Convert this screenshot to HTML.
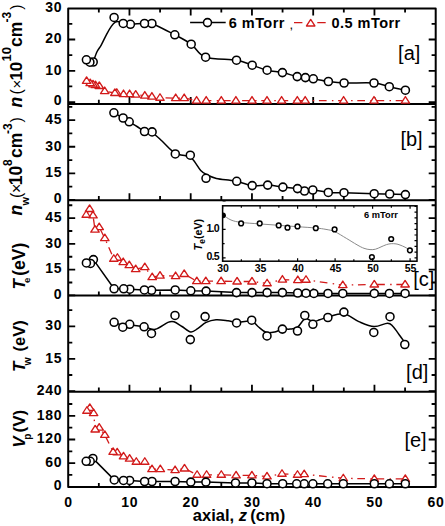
<!DOCTYPE html>
<html><head><meta charset="utf-8"><title>Axial profiles</title>
<style>
html,body{margin:0;padding:0;background:#fff;width:445px;height:526px;overflow:hidden}
svg text{font-family:"Liberation Sans",sans-serif;fill:#000}
</style></head><body>
<svg width="445" height="526" viewBox="0 0 445 526" style="display:block">
<rect width="445" height="526" fill="#fff"/>
<path d="M98.83 103.9V99.8 M129.45 103.9V96.9 M160.07 103.9V99.8 M190.7 103.9V96.9 M221.32 103.9V99.8 M251.95 103.9V96.9 M282.57 103.9V99.8 M313.2 103.9V96.9 M343.82 103.9V99.8 M374.45 103.9V96.9 M405.07 103.9V99.8 M98.83 200.2V196.1 M129.45 200.2V193.2 M160.07 200.2V196.1 M190.7 200.2V193.2 M221.32 200.2V196.1 M251.95 200.2V193.2 M282.57 200.2V196.1 M313.2 200.2V193.2 M343.82 200.2V196.1 M374.45 200.2V193.2 M405.07 200.2V196.1 M98.83 295.5V291.4 M129.45 295.5V288.5 M160.07 295.5V291.4 M190.7 295.5V288.5 M221.32 295.5V291.4 M251.95 295.5V288.5 M282.57 295.5V291.4 M313.2 295.5V288.5 M343.82 295.5V291.4 M374.45 295.5V288.5 M405.07 295.5V291.4 M98.83 391.7V387.6 M129.45 391.7V384.7 M160.07 391.7V387.6 M190.7 391.7V384.7 M221.32 391.7V387.6 M251.95 391.7V384.7 M282.57 391.7V387.6 M313.2 391.7V384.7 M343.82 391.7V387.6 M374.45 391.7V384.7 M405.07 391.7V387.6 M98.83 487V482.9 M129.45 487V480 M160.07 487V482.9 M190.7 487V480 M221.32 487V482.9 M251.95 487V480 M282.57 487V482.9 M313.2 487V480 M343.82 487V482.9 M374.45 487V480 M405.07 487V482.9 M98.83 8.5V12.6 M129.45 8.5V15.5 M160.07 8.5V12.6 M190.7 8.5V15.5 M221.32 8.5V12.6 M251.95 8.5V15.5 M282.57 8.5V12.6 M313.2 8.5V15.5 M343.82 8.5V12.6 M374.45 8.5V15.5 M405.07 8.5V12.6 M68.2 102.1H75.2 M435.7 102.1H428.7 M68.2 70.8H75.2 M435.7 70.8H428.7 M68.2 39.5H75.2 M435.7 39.5H428.7 M68.2 86.45H72.3 M435.7 86.45H431.6 M68.2 55.15H72.3 M435.7 55.15H431.6 M68.2 23.85H72.3 M435.7 23.85H431.6 M68.2 200H75.2 M435.7 200H428.7 M68.2 173.38H75.2 M435.7 173.38H428.7 M68.2 146.75H75.2 M435.7 146.75H428.7 M68.2 120.12H75.2 M435.7 120.12H428.7 M68.2 186.69H72.3 M435.7 186.69H431.6 M68.2 160.06H72.3 M435.7 160.06H431.6 M68.2 133.44H72.3 M435.7 133.44H431.6 M68.2 106.81H72.3 M435.7 106.81H431.6 M68.2 295.4H75.2 M435.7 295.4H428.7 M68.2 269.64H75.2 M435.7 269.64H428.7 M68.2 243.89H75.2 M435.7 243.89H428.7 M68.2 218.13H75.2 M435.7 218.13H428.7 M68.2 282.52H72.3 M435.7 282.52H431.6 M68.2 256.77H72.3 M435.7 256.77H431.6 M68.2 231.01H72.3 M435.7 231.01H431.6 M68.2 205.26H72.3 M435.7 205.26H431.6 M68.2 391.2H75.2 M435.7 391.2H428.7 M68.2 358.8H75.2 M435.7 358.8H428.7 M68.2 326.4H75.2 M435.7 326.4H428.7 M68.2 375H72.3 M435.7 375H431.6 M68.2 342.6H72.3 M435.7 342.6H431.6 M68.2 310.2H72.3 M435.7 310.2H431.6 M68.2 486.8H75.2 M435.7 486.8H428.7 M68.2 463.15H75.2 M435.7 463.15H428.7 M68.2 439.5H75.2 M435.7 439.5H428.7 M68.2 415.84H75.2 M435.7 415.84H428.7 M68.2 474.97H72.3 M435.7 474.97H431.6 M68.2 451.32H72.3 M435.7 451.32H431.6 M68.2 427.67H72.3 M435.7 427.67H431.6 M68.2 404.02H72.3 M435.7 404.02H431.6" stroke="#000" stroke-width="1.8" fill="none"/>
<path d="M68.2 8.5H435.7 V487 H68.2 Z M68.2 103.9H435.7 M68.2 200.2H435.7 M68.2 295.5H435.7 M68.2 391.7H435.7" stroke="#000" stroke-width="2" fill="none" stroke-linejoin="round"/>
<defs>
<clipPath id="cp0"><rect x="68.2" y="8.5" width="367.5" height="95.4"/></clipPath>
<clipPath id="cp1"><rect x="68.2" y="103.9" width="367.5" height="96.3"/></clipPath>
<clipPath id="cp2"><rect x="68.2" y="200.2" width="367.5" height="95.3"/></clipPath>
<clipPath id="cp3"><rect x="68.2" y="295.5" width="367.5" height="96.2"/></clipPath>
<clipPath id="cp4"><rect x="68.2" y="391.7" width="367.5" height="95.3"/></clipPath>
</defs>
<g>
<path d="M86.6 80.9 L90.2 83.2 L93 84.4 L95.5 85.2 L99.3 86 L104.7 91.1 L114.9 93 L116.8 92.8 L123.5 94.1 L129.6 94.1 L135.7 94.7 L144.8 95.6 L151.9 96.6 L160 97.8 L175.7 98.1 L184.2 98.1 L196.6 100.6 L206.2 100.6 L221.3 100.6 L235.9 100.6 L252 100.6 L267 100.6 L281.6 100.6 L297.3 100.6 L305.2 100.6 L343.6 100.6 L374 100.6 L405.4 100.6" fill="none" stroke="#d21a1a" stroke-width="1.3" stroke-dasharray="7.7 5.3 1.5 4.7" stroke-dashoffset="13.35"/>
<path d="M93.2 62 C93.83 60.3 95.67 54.62 97 51.8 C98.33 48.98 99.6 48.02 101.2 45.1 C102.8 42.18 104.92 37.42 106.6 34.3 C108.28 31.18 109.85 28.42 111.3 26.4 C112.75 24.38 114.07 22.98 115.3 22.2 C116.53 21.42 117.35 21.5 118.7 21.7 C120.05 21.9 121.45 22.98 123.4 23.4 C125.35 23.82 128.13 24.13 130.4 24.2 C132.67 24.27 134.65 23.92 137 23.8 C139.35 23.68 142.02 23.55 144.5 23.5 C146.98 23.45 146.85 21.62 151.9 23.5 C156.95 25.38 168.25 31.35 174.8 34.8 C181.35 38.25 186.07 40.47 191.2 44.2 C196.33 47.93 198.05 54.53 205.6 57.2 C213.15 59.87 228.73 58.87 236.5 60.2 C244.27 61.53 247.1 63.53 252.2 65.2 C257.3 66.87 262.07 68.97 267.1 70.2 C272.13 71.43 277.38 71.53 282.4 72.6 C287.42 73.67 293.37 75.77 297.2 76.6 C301.03 77.43 302.72 77.23 305.4 77.6 C308.08 77.97 309.47 78.15 313.3 78.8 C317.13 79.45 323.27 80.8 328.4 81.5 C333.53 82.2 336.5 82.75 344.1 83 C351.7 83.25 366.47 82.38 374 83 C381.53 83.62 384.07 85.5 389.3 86.7 C394.53 87.9 402.72 89.62 405.4 90.2" fill="none" stroke="#000" stroke-width="1.5" stroke-linejoin="round" stroke-linecap="round"/>
<path d="M86.4 59.8 L89.9 62.2 L93.2 62" fill="none" stroke="#000" stroke-width="1.5" stroke-linejoin="round" stroke-linecap="round"/>
<g fill="#fff" stroke="#d21a1a" stroke-width="1.35" stroke-linejoin="round"><path d="M405.4 96.55L409.6 103.05L401.2 103.05Z"/><path d="M374 96.55L378.2 103.05L369.8 103.05Z"/><path d="M343.6 96.55L347.8 103.05L339.4 103.05Z"/><path d="M305.2 96.55L309.4 103.05L301 103.05Z"/><path d="M297.3 96.55L301.5 103.05L293.1 103.05Z"/><path d="M281.6 96.55L285.8 103.05L277.4 103.05Z"/><path d="M267 96.55L271.2 103.05L262.8 103.05Z"/><path d="M252 96.55L256.2 103.05L247.8 103.05Z"/><path d="M235.9 96.55L240.1 103.05L231.7 103.05Z"/><path d="M221.3 96.55L225.5 103.05L217.1 103.05Z"/><path d="M206.2 96.55L210.4 103.05L202 103.05Z"/><path d="M196.6 96.55L200.8 103.05L192.4 103.05Z"/><path d="M184.2 94.05L188.4 100.55L180 100.55Z"/><path d="M175.7 94.05L179.9 100.55L171.5 100.55Z"/><path d="M160 93.75L164.2 100.25L155.8 100.25Z"/><path d="M151.9 92.55L156.1 99.05L147.7 99.05Z"/><path d="M144.8 91.55L149 98.05L140.6 98.05Z"/><path d="M135.7 90.65L139.9 97.15L131.5 97.15Z"/><path d="M129.6 90.05L133.8 96.55L125.4 96.55Z"/><path d="M123.5 90.05L127.7 96.55L119.3 96.55Z"/><path d="M116.8 88.75L121 95.25L112.6 95.25Z"/><path d="M114.9 88.95L119.1 95.45L110.7 95.45Z"/><path d="M104.7 87.05L108.9 93.55L100.5 93.55Z"/><path d="M99.3 81.95L103.5 88.45L95.1 88.45Z"/><path d="M95.5 81.15L99.7 87.65L91.3 87.65Z"/><path d="M93 80.35L97.2 86.85L88.8 86.85Z"/><path d="M90.2 79.15L94.4 85.65L86 85.65Z"/><path d="M86.6 76.85L90.8 83.35L82.4 83.35Z"/></g>
<g fill="#fff" stroke="#000" stroke-width="1.55"><circle cx="405.4" cy="90.2" r="4"/><circle cx="389.3" cy="86.7" r="4"/><circle cx="374" cy="83" r="4"/><circle cx="344.1" cy="83" r="4"/><circle cx="328.4" cy="81.5" r="4"/><circle cx="313.3" cy="78.8" r="4"/><circle cx="305.4" cy="77.6" r="4"/><circle cx="297.2" cy="76.6" r="4"/><circle cx="282.4" cy="72.6" r="4"/><circle cx="267.1" cy="70.2" r="4"/><circle cx="252.2" cy="65.2" r="4"/><circle cx="236.5" cy="60.2" r="4"/><circle cx="205.6" cy="57.2" r="4"/><circle cx="191.2" cy="44.2" r="4"/><circle cx="174.8" cy="34.8" r="4"/><circle cx="151.9" cy="23.5" r="4"/><circle cx="144.5" cy="23.5" r="4"/><circle cx="130.4" cy="24.3" r="4"/><circle cx="123.2" cy="23.4" r="4"/><circle cx="114.1" cy="17.45" r="4"/><circle cx="93.2" cy="62" r="4"/><circle cx="89.9" cy="62.2" r="4"/><circle cx="86.4" cy="59.8" r="4"/></g>
</g>
<g>
<path d="M113.9 112.8 C115.43 113.67 120.55 116.5 123.1 118 C125.65 119.5 126.88 120.38 129.2 121.8 C131.52 123.22 134.45 124.92 137 126.5 C139.55 128.08 141.98 130.28 144.5 131.3 C147.02 132.32 149.18 130.98 152.1 132.6 C155.02 134.22 158.77 138.05 162 141 C165.23 143.95 168.62 148.05 171.5 150.3 C174.38 152.55 176.88 153.57 179.3 154.5 C181.72 155.43 183.75 155.07 186 155.9 C188.25 156.73 190.35 157.08 192.8 159.5 C195.25 161.92 198.27 167.82 200.7 170.4 C203.13 172.98 204.78 173.67 207.4 175 C210.02 176.33 212.65 177.53 216.4 178.4 C220.15 179.27 226.52 179.72 229.9 180.2 C233.28 180.68 232.98 180.4 236.7 181.3 C240.42 182.2 247.03 184.97 252.2 185.6 C257.37 186.23 262.58 184.85 267.7 185.1 C272.82 185.35 277.93 186.52 282.9 187.1 C287.87 187.68 293.9 187.95 297.5 188.6 C301.1 189.25 301.95 190.77 304.5 191 C307.05 191.23 308.83 189.77 312.8 190 C316.77 190.23 323.1 191.95 328.3 192.4 C333.5 192.85 336.35 192.48 344 192.7 C351.65 192.92 366.58 193.48 374.2 193.7 C381.82 193.92 384.5 193.85 389.7 194 C394.9 194.15 402.78 194.5 405.4 194.6" fill="none" stroke="#000" stroke-width="1.5" stroke-linejoin="round" stroke-linecap="round"/>
<g fill="#fff" stroke="#000" stroke-width="1.55"><circle cx="405.4" cy="194.6" r="4"/><circle cx="389.7" cy="194" r="4"/><circle cx="374.2" cy="193.7" r="4"/><circle cx="344" cy="192.7" r="4"/><circle cx="328.3" cy="192.4" r="4"/><circle cx="312.8" cy="190" r="4"/><circle cx="304.5" cy="191" r="4"/><circle cx="297.5" cy="188.6" r="4"/><circle cx="282.9" cy="187.1" r="4"/><circle cx="267.7" cy="185.1" r="4"/><circle cx="252.2" cy="185.6" r="4"/><circle cx="236.7" cy="181.3" r="4"/><circle cx="206" cy="178.3" r="4"/><circle cx="190.3" cy="155.2" r="4"/><circle cx="175.3" cy="153.9" r="4"/><circle cx="152.1" cy="131.9" r="4"/><circle cx="144.5" cy="131.5" r="4"/><circle cx="129.2" cy="121.8" r="4"/><circle cx="123.1" cy="118" r="4"/><circle cx="113.9" cy="112.8" r="4"/></g>
</g>
<g>
<path d="M86.2 214.8 L89.6 209 L93 215.4 L95 229.7 L99.2 227.2 L104.8 238.2 L113.8 258.8 L117.4 257.8 L123.2 262.1 L129.3 265.2 L135.7 269.2 L144.8 267.2 L152.2 277.2 L160 275.7 L175.6 276.1 L184.2 274 L196.8 281.2 L205.8 281.2 L221.1 281.2 L237.1 281.5 L252 281.5 L267.1 283.3 L282.4 279.6 L297.8 280.1 L306 279.8 L342.8 285.1 L374.3 284.5 L405.1 284.5" fill="none" stroke="#d21a1a" stroke-width="1.3" stroke-dasharray="7.7 5.3 1.5 4.7" stroke-dashoffset="2.16"/>
<path d="M93.4 259.6 L114.1 288.8 L123.7 288.8 L129.8 289.2 L144.4 289.9 L151.6 290.3 L175.2 289.9 L190.8 290.8 L206.1 291.1 L236.5 292.6 L252 292.6 L267.1 292.6 L282.4 292.6 L297.7 293 L306 293.2 L313.9 293.4 L328 293.4 L342.8 293.4 L374.3 293.4 L389.4 293.4 L405.1 293.4" fill="none" stroke="#000" stroke-width="1.5" stroke-linejoin="round" stroke-linecap="round"/>
<g fill="#fff" stroke="#d21a1a" stroke-width="1.35" stroke-linejoin="round"><path d="M405.1 280.45L409.3 286.95L400.9 286.95Z"/><path d="M374.3 280.45L378.5 286.95L370.1 286.95Z"/><path d="M342.8 281.05L347 287.55L338.6 287.55Z"/><path d="M306 275.75L310.2 282.25L301.8 282.25Z"/><path d="M297.8 276.05L302 282.55L293.6 282.55Z"/><path d="M282.4 275.55L286.6 282.05L278.2 282.05Z"/><path d="M267.1 279.25L271.3 285.75L262.9 285.75Z"/><path d="M252 277.45L256.2 283.95L247.8 283.95Z"/><path d="M237.1 277.45L241.3 283.95L232.9 283.95Z"/><path d="M221.1 277.15L225.3 283.65L216.9 283.65Z"/><path d="M205.8 277.15L210 283.65L201.6 283.65Z"/><path d="M196.8 277.15L201 283.65L192.6 283.65Z"/><path d="M184.2 269.95L188.4 276.45L180 276.45Z"/><path d="M175.6 272.05L179.8 278.55L171.4 278.55Z"/><path d="M160 271.65L164.2 278.15L155.8 278.15Z"/><path d="M152.2 273.15L156.4 279.65L148 279.65Z"/><path d="M144.8 263.15L149 269.65L140.6 269.65Z"/><path d="M135.7 265.15L139.9 271.65L131.5 271.65Z"/><path d="M129.3 261.15L133.5 267.65L125.1 267.65Z"/><path d="M123.2 258.05L127.4 264.55L119 264.55Z"/><path d="M117.4 253.75L121.6 260.25L113.2 260.25Z"/><path d="M113.8 254.75L118 261.25L109.6 261.25Z"/><path d="M104.8 234.15L109 240.65L100.6 240.65Z"/><path d="M99.2 223.15L103.4 229.65L95 229.65Z"/><path d="M95 225.65L99.2 232.15L90.8 232.15Z"/><path d="M93 211.35L97.2 217.85L88.8 217.85Z"/><path d="M89.6 204.95L93.8 211.45L85.4 211.45Z"/><path d="M86.2 210.75L90.4 217.25L82 217.25Z"/></g>
<g fill="#fff" stroke="#000" stroke-width="1.55"><circle cx="405.1" cy="293.4" r="4"/><circle cx="389.4" cy="293.4" r="4"/><circle cx="374.3" cy="293.4" r="4"/><circle cx="342.8" cy="293.4" r="4"/><circle cx="328" cy="293.4" r="4"/><circle cx="313.9" cy="293.4" r="4"/><circle cx="306" cy="293.2" r="4"/><circle cx="297.7" cy="293" r="4"/><circle cx="282.4" cy="292.6" r="4"/><circle cx="267.1" cy="292.6" r="4"/><circle cx="252" cy="292.6" r="4"/><circle cx="236.5" cy="292.6" r="4"/><circle cx="206.1" cy="291.1" r="4"/><circle cx="190.8" cy="290.8" r="4"/><circle cx="175.2" cy="289.9" r="4"/><circle cx="151.6" cy="290.3" r="4"/><circle cx="144.4" cy="289.9" r="4"/><circle cx="129.8" cy="289.2" r="4"/><circle cx="123.7" cy="288.8" r="4"/><circle cx="114.1" cy="288.8" r="4"/><circle cx="93.4" cy="259.6" r="4"/><circle cx="90.5" cy="263.4" r="4"/><circle cx="86.4" cy="262.9" r="4"/></g>
</g>
<g>
<path d="M113.1 322.4 C114.75 322.88 120.22 324.87 123 325.3 C125.78 325.73 126.27 324.77 129.8 325 C133.33 325.23 139.95 325.98 144.2 326.7 C148.45 327.42 151.35 330.02 155.3 329.3 C159.25 328.58 164.78 323.65 167.9 322.4 C171.02 321.15 171.65 321.12 174 321.8 C176.35 322.48 179.2 324.8 182 326.5 C184.8 328.2 188.13 331.68 190.8 332 C193.47 332.32 195.45 330 198 328.4 C200.55 326.8 203.1 323.85 206.1 322.4 C209.1 320.95 212.35 319.98 216 319.7 C219.65 319.42 224.57 320.28 228 320.7 C231.43 321.12 232.7 322.12 236.6 322.2 C240.5 322.28 247.83 320.48 251.4 321.2 C254.97 321.92 255.57 324.65 258 326.5 C260.43 328.35 263.2 331.38 266 332.3 C268.8 333.22 272.05 332.53 274.8 332 C277.55 331.47 279.97 329.58 282.5 329.1 C285.03 328.62 287.48 329.42 290 329.1 C292.52 328.78 295.05 328.97 297.6 327.2 C300.15 325.43 302.75 319.43 305.3 318.5 C307.85 317.57 310.5 321.38 312.9 321.6 C315.3 321.82 317.22 320.55 319.7 319.8 C322.18 319.05 323.78 318.1 327.8 317.1 C331.82 316.1 338.63 313.05 343.8 313.8 C348.97 314.55 353.77 319.47 358.8 321.6 C363.83 323.73 369.22 326.33 374 326.6 C378.78 326.87 384.33 323.22 387.5 323.2 C390.67 323.18 390.9 324.37 393 326.5 C395.1 328.63 398.17 333.38 400.1 336 C402.03 338.62 403.85 341.17 404.6 342.2" fill="none" stroke="#000" stroke-width="1.5" stroke-linejoin="round" stroke-linecap="round"/>
<g fill="#fff" stroke="#000" stroke-width="1.55"><circle cx="404.8" cy="344.5" r="4"/><circle cx="390" cy="316.7" r="4"/><circle cx="373.8" cy="332.4" r="4"/><circle cx="343.9" cy="312.1" r="4"/><circle cx="327.9" cy="317.5" r="4"/><circle cx="312.9" cy="324.3" r="4"/><circle cx="304.8" cy="315.4" r="4"/><circle cx="297.5" cy="331" r="4"/><circle cx="282.4" cy="329.1" r="4"/><circle cx="267" cy="335.9" r="4"/><circle cx="251.7" cy="320.2" r="4"/><circle cx="236.6" cy="322.9" r="4"/><circle cx="205.1" cy="316.6" r="4"/><circle cx="190.3" cy="339.6" r="4"/><circle cx="175" cy="315.4" r="4"/><circle cx="151.5" cy="333.4" r="4"/><circle cx="144.1" cy="326.8" r="4"/><circle cx="129.7" cy="324.3" r="4"/><circle cx="122.8" cy="327.2" r="4"/><circle cx="114.1" cy="322.3" r="4"/></g>
</g>
<g>
<path d="M86.9 410.8 L89.8 407.9 L93.6 413.1 L95.2 429.5 L99.2 427.7 L104.8 434.9 L113.1 451.9 L117.2 452.4 L123.5 456.4 L129.6 458.7 L136.3 461.8 L144.8 461.8 L152 469.2 L160.3 469.2 L175.1 470.1 L184.5 468.5 L197.1 474.8 L206.6 474.8 L221.3 474.8 L236.1 475.4 L251.9 475.4 L267 476.4 L282 473.8 L297.5 474.8 L304.2 474.2 L343.3 478.3 L374.3 478.9 L405.3 478.9" fill="none" stroke="#d21a1a" stroke-width="1.3" stroke-dasharray="7.7 5.3 1.5 4.7" stroke-dashoffset="15.14"/>
<path d="M92.9 458.4 L114.3 479.9 L123.5 480.4 L129.6 480.4 L144.6 481.5 L152 481.5 L175.1 481.5 L190.8 482.1 L205.9 482.1 L235.5 483 L251.9 483 L267 483.7 L282.7 483.7 L296.7 483.8 L304.2 483.8 L312.9 483.8 L327.7 483.8 L343.3 483.8 L374.3 483.8 L389.4 483.8 L405.3 483.8" fill="none" stroke="#000" stroke-width="1.5" stroke-linejoin="round" stroke-linecap="round"/>
<g fill="#fff" stroke="#d21a1a" stroke-width="1.35" stroke-linejoin="round"><path d="M405.3 474.85L409.5 481.35L401.1 481.35Z"/><path d="M374.3 474.85L378.5 481.35L370.1 481.35Z"/><path d="M343.3 474.25L347.5 480.75L339.1 480.75Z"/><path d="M304.2 470.15L308.4 476.65L300 476.65Z"/><path d="M297.5 470.75L301.7 477.25L293.3 477.25Z"/><path d="M282 469.75L286.2 476.25L277.8 476.25Z"/><path d="M267 472.35L271.2 478.85L262.8 478.85Z"/><path d="M251.9 471.35L256.1 477.85L247.7 477.85Z"/><path d="M236.1 471.35L240.3 477.85L231.9 477.85Z"/><path d="M221.3 470.75L225.5 477.25L217.1 477.25Z"/><path d="M206.6 470.75L210.8 477.25L202.4 477.25Z"/><path d="M197.1 470.75L201.3 477.25L192.9 477.25Z"/><path d="M184.5 464.45L188.7 470.95L180.3 470.95Z"/><path d="M175.1 466.05L179.3 472.55L170.9 472.55Z"/><path d="M160.3 465.15L164.5 471.65L156.1 471.65Z"/><path d="M152 465.15L156.2 471.65L147.8 471.65Z"/><path d="M144.8 457.75L149 464.25L140.6 464.25Z"/><path d="M136.3 457.75L140.5 464.25L132.1 464.25Z"/><path d="M129.6 454.65L133.8 461.15L125.4 461.15Z"/><path d="M123.5 452.35L127.7 458.85L119.3 458.85Z"/><path d="M117.2 448.35L121.4 454.85L113 454.85Z"/><path d="M113.1 447.85L117.3 454.35L108.9 454.35Z"/><path d="M104.8 430.85L109 437.35L100.6 437.35Z"/><path d="M99.2 423.65L103.4 430.15L95 430.15Z"/><path d="M95.2 425.45L99.4 431.95L91 431.95Z"/><path d="M93.6 409.05L97.8 415.55L89.4 415.55Z"/><path d="M89.8 403.85L94 410.35L85.6 410.35Z"/><path d="M86.9 406.75L91.1 413.25L82.7 413.25Z"/></g>
<g fill="#fff" stroke="#000" stroke-width="1.55"><circle cx="405.3" cy="483.8" r="4"/><circle cx="389.4" cy="483.8" r="4"/><circle cx="374.3" cy="483.8" r="4"/><circle cx="343.3" cy="483.8" r="4"/><circle cx="327.7" cy="483.8" r="4"/><circle cx="312.9" cy="483.8" r="4"/><circle cx="304.2" cy="483.8" r="4"/><circle cx="296.7" cy="483.8" r="4"/><circle cx="282.7" cy="483.7" r="4"/><circle cx="267" cy="483.7" r="4"/><circle cx="251.9" cy="483" r="4"/><circle cx="235.5" cy="483" r="4"/><circle cx="205.9" cy="482.1" r="4"/><circle cx="190.8" cy="482.1" r="4"/><circle cx="175.1" cy="481.5" r="4"/><circle cx="152" cy="481.5" r="4"/><circle cx="144.6" cy="481.5" r="4"/><circle cx="129.6" cy="480.4" r="4"/><circle cx="123.5" cy="480.4" r="4"/><circle cx="114.3" cy="479.9" r="4"/><circle cx="92.9" cy="458.4" r="4"/><circle cx="90.2" cy="461.3" r="4"/><circle cx="86.2" cy="461.3" r="4"/></g>
</g>
<rect x="222.6" y="205.8" width="194.4" height="55.4" fill="#fff" stroke="none"/>
<path d="M223.5 215.3 C224.75 216.08 228.07 218.82 231 220 C233.93 221.18 236.32 221.75 241.1 222.4 C245.88 223.05 253.43 223.42 259.7 223.9 C265.97 224.38 272.4 224.83 278.7 225.3 C285 225.77 291.32 226.25 297.5 226.7 C303.68 227.15 311.05 227.55 315.8 228 C320.55 228.45 322.87 228.8 326 229.4 C329.13 230 331.22 230.12 334.6 231.6 C337.98 233.08 342.57 236.1 346.3 238.3 C350.03 240.5 354.05 243.13 357 244.8 C359.95 246.47 361.83 247.5 364 248.3 C366.17 249.1 368.08 249.45 370 249.6 C371.92 249.75 373.67 249.65 375.5 249.2 C377.33 248.75 379.17 247.67 381 246.9 C382.83 246.13 384.8 245.13 386.5 244.6 C388.2 244.07 389.62 243.82 391.2 243.7 C392.78 243.58 394.53 243.68 396 243.9 C397.47 244.12 398.5 244.45 400 245 C401.5 245.55 403.42 246.4 405 247.2 C406.58 248 408.75 249.37 409.5 249.8" fill="none" stroke="#8a8a8a" stroke-width="1"/>
<path d="M223 212.4A2.9 2.9 0 0 1 223 218.2Z" fill="#000"/>
<g fill="#fff" stroke="#000" stroke-width="1.5"><circle cx="409.9" cy="250.3" r="2.35"/><circle cx="391.2" cy="239" r="2.35"/><circle cx="371.9" cy="257" r="2.35"/><circle cx="334.6" cy="229.4" r="2.35"/><circle cx="315.8" cy="228.2" r="2.35"/><circle cx="297.5" cy="226.4" r="2.35"/><circle cx="287.5" cy="227.7" r="2.35"/><circle cx="278.7" cy="225.4" r="2.35"/><circle cx="259.7" cy="223.4" r="2.35"/><circle cx="241.1" cy="223.4" r="2.35"/></g>
<path d="M222.6 261.2V258.2 M222.6 205.8V208.8 M241.35 261.2V259.2 M241.35 205.8V207.8 M260.1 261.2V258.2 M260.1 205.8V208.8 M278.85 261.2V259.2 M278.85 205.8V207.8 M297.6 261.2V258.2 M297.6 205.8V208.8 M316.35 261.2V259.2 M316.35 205.8V207.8 M335.1 261.2V258.2 M335.1 205.8V208.8 M353.85 261.2V259.2 M353.85 205.8V207.8 M372.6 261.2V258.2 M372.6 205.8V208.8 M391.35 261.2V259.2 M391.35 205.8V207.8 M410.1 261.2V258.2 M410.1 205.8V208.8 M222.6 257.8H225.6 M222.6 243.55H224.6 M222.6 229.3H225.6 M222.6 215.05H224.6 M222.6 200.8H225.6 M417 257.8H414.5 M417 252.1H414.5 M417 246.4H414.5 M417 240.7H414.5 M417 235H414.5 M417 229.3H414.5 M417 223.6H414.5 M417 217.9H414.5 M417 212.2H414.5 M417 206.5H414.5" stroke="#000" stroke-width="1.2" fill="none"/>
<rect x="222.6" y="205.8" width="194.4" height="55.4" fill="none" stroke="#000" stroke-width="1.5"/>
<text x="62.2" y="105.11" text-anchor="end" font-size="14" font-weight="bold" letter-spacing="0.7">0</text>
<text x="62.2" y="74.61" text-anchor="end" font-size="14" font-weight="bold" letter-spacing="0.7">10</text>
<text x="62.2" y="43.31" text-anchor="end" font-size="14" font-weight="bold" letter-spacing="0.7">20</text>
<text x="62.2" y="12.01" text-anchor="end" font-size="14" font-weight="bold" letter-spacing="0.7">30</text>
<text x="62.2" y="177.19" text-anchor="end" font-size="14" font-weight="bold" letter-spacing="0.7">15</text>
<text x="62.2" y="150.56" text-anchor="end" font-size="14" font-weight="bold" letter-spacing="0.7">30</text>
<text x="62.2" y="123.94" text-anchor="end" font-size="14" font-weight="bold" letter-spacing="0.7">45</text>
<text x="62.2" y="202.61" text-anchor="end" font-size="14" font-weight="bold" letter-spacing="0.7">0</text>
<text x="62.2" y="273.46" text-anchor="end" font-size="14" font-weight="bold" letter-spacing="0.7">15</text>
<text x="62.2" y="247.7" text-anchor="end" font-size="14" font-weight="bold" letter-spacing="0.7">30</text>
<text x="62.2" y="221.95" text-anchor="end" font-size="14" font-weight="bold" letter-spacing="0.7">45</text>
<text x="62.2" y="298.61" text-anchor="end" font-size="14" font-weight="bold" letter-spacing="0.7">0</text>
<text x="62.2" y="362.61" text-anchor="end" font-size="14" font-weight="bold" letter-spacing="0.7">15</text>
<text x="62.2" y="330.21" text-anchor="end" font-size="14" font-weight="bold" letter-spacing="0.7">30</text>
<text x="62.2" y="466.96" text-anchor="end" font-size="14" font-weight="bold" letter-spacing="0.7">60</text>
<text x="62.2" y="443.31" text-anchor="end" font-size="14" font-weight="bold" letter-spacing="0.7">120</text>
<text x="62.2" y="419.66" text-anchor="end" font-size="14" font-weight="bold" letter-spacing="0.7">180</text>
<text x="62.2" y="490.01" text-anchor="end" font-size="14" font-weight="bold" letter-spacing="0.7">0</text>
<text x="62.2" y="394.61" text-anchor="end" font-size="14" font-weight="bold" letter-spacing="0.7">240</text>
<text x="68.55" y="506.7" text-anchor="middle" font-size="14" font-weight="bold" letter-spacing="0.7">0</text>
<text x="129.8" y="506.7" text-anchor="middle" font-size="14" font-weight="bold" letter-spacing="0.7">10</text>
<text x="191.05" y="506.7" text-anchor="middle" font-size="14" font-weight="bold" letter-spacing="0.7">20</text>
<text x="252.3" y="506.7" text-anchor="middle" font-size="14" font-weight="bold" letter-spacing="0.7">30</text>
<text x="313.55" y="506.7" text-anchor="middle" font-size="14" font-weight="bold" letter-spacing="0.7">40</text>
<text x="374.8" y="506.7" text-anchor="middle" font-size="14" font-weight="bold" letter-spacing="0.7">50</text>
<text x="436.05" y="506.7" text-anchor="middle" font-size="14" font-weight="bold" letter-spacing="0.7">60</text>
<text x="192.8" y="521.2" font-size="16.5" font-weight="bold">axial, <tspan font-style="italic">z</tspan><tspan dx="-1.2"> (cm)</tspan></text>
<text x="398.1" y="60.4" font-size="20">[a]</text>
<text x="400.4" y="145.7" font-size="20">[b]</text>
<text x="413.3" y="285.9" font-size="20">[c]</text>
<text x="406.1" y="378.8" font-size="20">[d]</text>
<text x="404.4" y="446.5" font-size="20">[e]</text>
<path d="M190.1 22.6H225.7" stroke="#000" stroke-width="1.5"/>
<g fill="#fff" stroke="#000" stroke-width="1.55"><circle cx="207.5" cy="22.6" r="4"/></g>
<text x="228.8" y="27.6" font-size="14.5" font-weight="bold" letter-spacing="0.45">6 mTorr</text>
<text x="289.6" y="28.5" font-size="13">,</text>
<path d="M294 22.6H302.4M317.3 22.6H325.7" stroke="#d21a1a" stroke-width="1.4"/>
<g fill="#fff" stroke="#d21a1a" stroke-width="1.35" stroke-linejoin="round"><path d="M310.7 19.45L314.9 25.95L306.5 25.95Z"/></g>
<text x="331.6" y="27.6" font-size="14.5" font-weight="bold" letter-spacing="0.45">0.5 mTorr</text>
<text x="364" y="217.8" font-size="9.3" font-weight="bold">6 mTorr</text>
<text x="223" y="271.6" text-anchor="middle" font-size="10.5" font-weight="bold">30</text>
<text x="260.5" y="271.6" text-anchor="middle" font-size="10.5" font-weight="bold">35</text>
<text x="298" y="271.6" text-anchor="middle" font-size="10.5" font-weight="bold">40</text>
<text x="335.5" y="271.6" text-anchor="middle" font-size="10.5" font-weight="bold">45</text>
<text x="373" y="271.6" text-anchor="middle" font-size="10.5" font-weight="bold">50</text>
<text x="410.5" y="271.6" text-anchor="middle" font-size="10.5" font-weight="bold">55</text>
<text x="218.8" y="232.0" text-anchor="end" font-size="10.6" font-weight="bold" letter-spacing="-0.8">1.0</text>
<text x="218.8" y="259.6" text-anchor="end" font-size="10.6" font-weight="bold" letter-spacing="-0.8">0.5</text>
<g transform="translate(202.2 250.5) rotate(-90)"><text x="0" y="0" font-size="11" font-weight="bold"><tspan font-style="italic">T</tspan><tspan font-size="8.5" dy="3.0">e</tspan><tspan dy="-3.0" font-size="10.6">(eV)</tspan></text></g>
<g transform="translate(21.8 105.5) rotate(-90)"><text x="-2" y="0" font-size="17.5" font-weight="bold" font-style="italic">n</text><text x="11" y="0" font-size="16" font-weight="normal" font-style="normal">(</text><text x="17" y="0.2" font-size="15" font-weight="normal" font-style="normal">×</text><text x="25" y="0" font-size="16.8" font-weight="bold" font-style="normal">10</text><text x="44.1" y="-10.8" font-size="13" font-weight="bold" font-style="normal">10</text><text x="58.5" y="0" font-size="17.5" font-weight="bold" font-style="normal">cm</text><text x="83" y="-10.5" font-size="12" font-weight="bold" font-style="normal">-3</text><text x="95.8" y="0" font-size="16" font-weight="normal" font-style="normal">)</text></g>
<g transform="translate(22.2 215.5) rotate(-90)"><text x="0" y="0" font-size="17.5" font-weight="bold" font-style="italic">n</text><text x="10" y="6.5" font-size="11" font-weight="bold" font-style="normal">w</text><text x="17.5" y="0" font-size="16" font-weight="normal" font-style="normal">(</text><text x="22.6" y="0" font-size="16" font-weight="normal" font-style="normal">×</text><text x="30.3" y="0" font-size="17.5" font-weight="bold" font-style="normal">10</text><text x="49.5" y="-10.5" font-size="12" font-weight="bold" font-style="normal">8</text><text x="57.5" y="0" font-size="17.5" font-weight="bold" font-style="normal">cm</text><text x="81.5" y="-10.5" font-size="12" font-weight="bold" font-style="normal">-3</text><text x="93" y="0" font-size="16" font-weight="normal" font-style="normal">)</text></g>
<g transform="translate(24.8 289.5) rotate(-90)"><text x="0" y="0" font-size="17" font-weight="bold" font-style="italic">T</text><text x="6.5" y="5.5" font-size="9.5" font-weight="bold" font-style="normal">e</text><text x="13.8" y="0" font-size="17.5" font-weight="bold" font-style="normal">(eV)</text></g>
<g transform="translate(25 372) rotate(-90)"><text x="0" y="0" font-size="17" font-weight="bold" font-style="italic">T</text><text x="6.5" y="5.5" font-size="10.5" font-weight="bold" font-style="normal">w</text><text x="20.5" y="0" font-size="16.5" font-weight="bold" font-style="normal">(eV)</text></g>
<g transform="translate(25.2 447.7) rotate(-90)"><text x="0" y="0" font-size="17" font-weight="bold" font-style="italic">V</text><text x="8" y="5.5" font-size="10" font-weight="bold" font-style="normal">p</text><text x="15.2" y="0" font-size="17" font-weight="bold" font-style="normal">(V)</text></g>
</svg>
</body></html>
